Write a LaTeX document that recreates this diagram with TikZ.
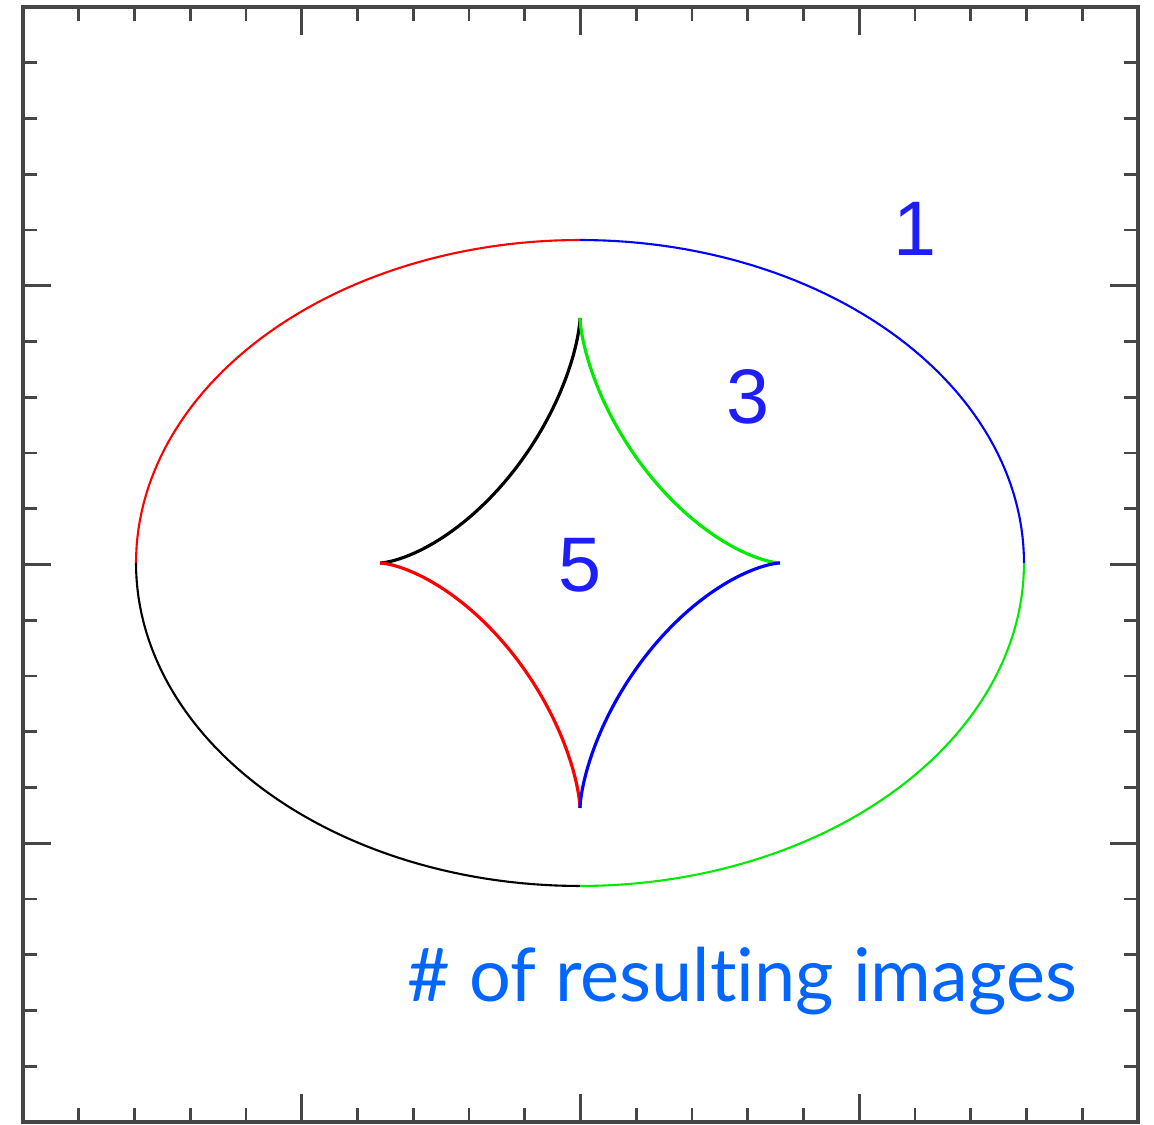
\documentclass[tikz,border=0pt]{standalone}
\usepackage{fontspec}
\setmainfont{Liberation Sans}
\newfontfamily\capfont[Ligatures=NoCommon]{Lato}
\usetikzlibrary{calc}

\definecolor{plotblue}{RGB}{30,30,250}
\definecolor{capblue}{RGB}{0,102,255}
\definecolor{plotgreen}{RGB}{0,235,0}
\definecolor{framegray}{RGB}{70,70,70}

\tikzset{
  frameline/.style={line width=1.2pt, draw=framegray},
  tickline/.style={line width=0.75pt, draw=framegray},
  causticline/.style={line width=0.6pt},
  astroidline/.style={line width=0.9pt},
  countlabel/.style={text=plotblue, font=\fontsize{22}{22}\selectfont, inner sep=0pt},
}

\begin{document}
\begin{tikzpicture}[x=0.01cm, y=-0.01cm]
  \useasboundingbox (0,0) rectangle (1154,1125);

  % Frame
  \draw[frameline] (23,7) rectangle (1138,1122);

  % Ticks on all four sides
  \foreach \i in {1,...,19} {
    \pgfmathsetmacro{\len}{ifthenelse(mod(\i,5)==0,28,14)}
    \pgfmathsetmacro{\pos}{23+\i*55.75}
    \draw[tickline] (\pos,7) -- (\pos,7+\len);
    \draw[tickline] (\pos,1122) -- (\pos,1122-\len);
    \draw[tickline] (23,\pos-16) -- (23+\len,\pos-16);
    \draw[tickline] (1138,\pos-16) -- (1138-\len,\pos-16);
  }

  % Critical ellipse (outer caustic)
  \draw[causticline, red] plot[domain=90:180, samples=60]
    ({580+444*cos(\x)}, {563-323*sin(\x)});
  \draw[causticline, blue] plot[domain=0:90, samples=60]
    ({580+444*cos(\x)}, {563-323*sin(\x)});
  \draw[causticline, black] plot[domain=180:270, samples=60]
    ({580+444*cos(\x)}, {563-323*sin(\x)});
  \draw[causticline, plotgreen] plot[domain=270:360, samples=60]
    ({580+444*cos(\x)}, {563-323*sin(\x)});

  % Inner astroid caustic
  \draw[astroidline, black] plot[domain=90:180, samples=80]
    ({580+200*cos(\x)*cos(\x)*cos(\x)}, {563-245*sin(\x)*sin(\x)*sin(\x)});
  \draw[astroidline, plotgreen] plot[domain=0:90, samples=80]
    ({580+200*cos(\x)*cos(\x)*cos(\x)}, {563-245*sin(\x)*sin(\x)*sin(\x)});
  \draw[astroidline, red] plot[domain=180:270, samples=80]
    ({580+200*cos(\x)*cos(\x)*cos(\x)}, {563-245*sin(\x)*sin(\x)*sin(\x)});
  \draw[astroidline, blue] plot[domain=270:360, samples=80]
    ({580+200*cos(\x)*cos(\x)*cos(\x)}, {563-245*sin(\x)*sin(\x)*sin(\x)});

  % Image counts
  \node[countlabel] (one) at (915,229) {1};
  \node[countlabel] (three) at (748,397) {3};
  \node[countlabel] (five) at (580,565) {5};

  % Caption
  \node[anchor=base west, inner sep=0pt, text=capblue,
        font=\capfont\fontsize{21}{21}\selectfont] (caption) at (407,1002)
    {\# of resulting images};
\end{tikzpicture}
\end{document}
